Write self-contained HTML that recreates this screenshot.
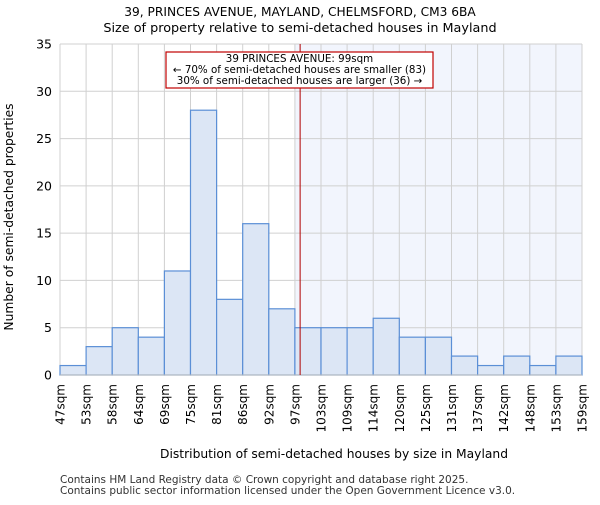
<!DOCTYPE html>
<html><head><meta charset="utf-8"><style>body{margin:0;background:#fff}svg{font-family:"DejaVu Sans","Liberation Sans",sans-serif}</style></head>
<body>
<svg id="c" width="600" height="500">
<text x="300" y="16" text-anchor="middle" font-size="12.2">39, PRINCES AVENUE, MAYLAND, CHELMSFORD, CM3 6BA</text>
<text x="300" y="32" text-anchor="middle" font-size="12.8">Size of property relative to semi-detached houses in Mayland</text>
<g id="plot"></g>
<text x="334" y="458" text-anchor="middle" font-size="12.3">Distribution of semi-detached houses by size in Mayland</text>
<text transform="translate(13,217) rotate(-90)" text-anchor="middle" font-size="12.3">Number of semi-detached properties</text>
<text x="60" y="483" font-size="10.5" fill="#333">Contains HM Land Registry data © Crown copyright and database right 2025.</text>
<text x="60" y="494" font-size="10.5" fill="#333">Contains public sector information licensed under the Open Government Licence v3.0.</text>
</svg>
<script>
const edges=[47,53,58,64,69,75,81,86,92,97,103,109,114,120,125,131,137,142,148,153,159];
const counts=[1,3,5,4,11,28,8,16,7,5,5,5,6,4,4,2,1,2,1,2];
const yTicks=[0,5,10,15,20,25,30,35];
const subjectIdx=9.2;
const shadeFromIdx=9;
const X0=60,X1=582,Y0=375,Y1=44,n=counts.length;
const xs=i=>X0+(X1-X0)*i/n;
const ys=v=>Y0-(Y0-Y1)*v/35;
const NS="http://www.w3.org/2000/svg",g=document.getElementById('plot');
function mk(t,a,p){const e=document.createElementNS(NS,t);for(const k in a)e.setAttribute(k,a[k]);(p||g).appendChild(e);return e;}
const sh=mk('rect',{x:xs(shadeFromIdx),y:Y1,width:X1-xs(shadeFromIdx),height:Y0-Y1,fill:'#f2f5fd'});


for(let i=0;i<=n;i++){const l=mk('line',{x1:xs(i),x2:xs(i),y1:Y1,y2:Y0,stroke:'#d0d0d0'});

}
yTicks.forEach(v=>{const l=mk('line',{x1:X0,x2:X1,y1:ys(v),y2:ys(v),stroke:'#d0d0d0'});


const t=mk('text',{x:X0-8,y:ys(v)+4.5,'text-anchor':'end','font-size':12.5});t.textContent=v;

});
counts.forEach((c,i)=>{const r=mk('rect',{x:xs(i),y:ys(c),width:xs(i+1)-xs(i),height:Y0-ys(c),fill:'#dce6f5',stroke:'#5b8fd6','stroke-width':1.2});

});
edges.forEach((e,i)=>{const t=mk('text',{transform:`translate(${xs(i)+4.5},384) rotate(-90)`,'text-anchor':'end','font-size':12});t.textContent=e+'sqm';

});
const ax=mk('line',{x1:X0,x2:X1,y1:Y0,y2:Y0,stroke:'#bbb'});


const sl=mk('line',{x1:xs(subjectIdx),x2:xs(subjectIdx),y1:Y1,y2:Y0,stroke:'#b00000','stroke-width':1});


const bx=mk('rect',{x:166,y:52,width:267,height:36,fill:'#fff',stroke:'#c00000','stroke-width':1.2});


['39 PRINCES AVENUE: 99sqm','← 70% of semi-detached houses are smaller (83)','30% of semi-detached houses are larger (36) →'].forEach((s,i)=>{const t=mk('text',{x:299.5,y:62+i*11,'text-anchor':'middle','font-size':10.3});t.textContent=s;

});
</script>
</body></html>
